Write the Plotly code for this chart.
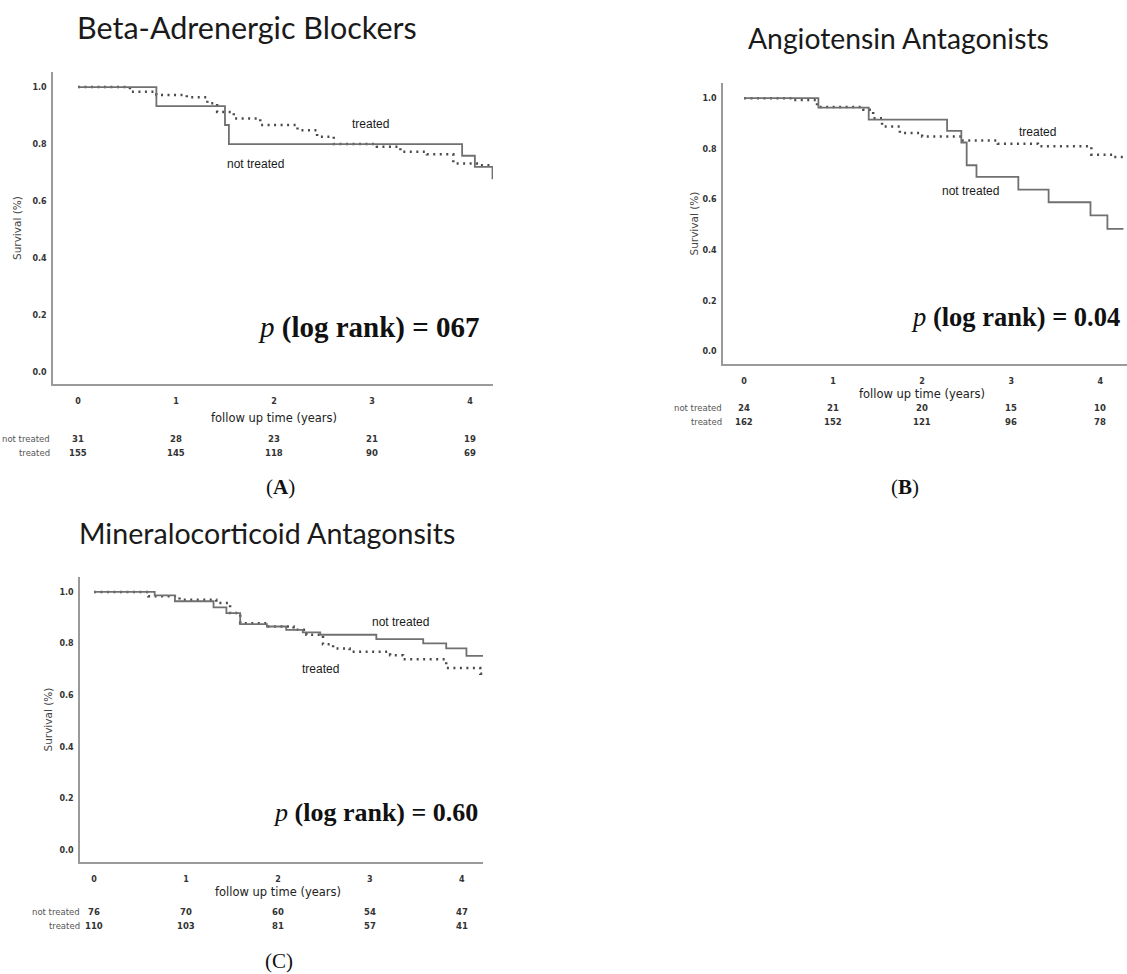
import plotly.graph_objects as go

W, H = 1127, 974

# ---------------- data ----------------
years = [0, 1, 2, 3, 4]

# Panel A: Beta-Adrenergic Blockers
a_nt_t = [0, 0.80, 1.50, 1.54, 3.92, 4.05, 4.23]
a_nt_s = [1.0, 0.933, 0.867, 0.80, 0.759, 0.72, 0.677]
a_tr_t = [0, 0.53, 0.80, 1.11, 1.32, 1.42, 1.59, 1.86, 2.24, 2.44, 2.61, 3.05, 3.29, 3.56, 3.83, 4.07, 4.23]
a_tr_s = [1.0, 0.984, 0.972, 0.964, 0.943, 0.913, 0.89, 0.867, 0.849, 0.826, 0.80, 0.791, 0.773, 0.764, 0.732, 0.726, 0.726]
a_risk_nt = [31, 28, 23, 21, 19]
a_risk_tr = [155, 145, 118, 90, 69]

# Panel B: Angiotensin Antagonists
b_nt_t = [0, 0.835, 1.40, 2.28, 2.44, 2.50, 2.61, 3.08, 3.42, 3.89, 4.08, 4.26]
b_nt_s = [1.0, 0.963, 0.915, 0.871, 0.825, 0.735, 0.689, 0.639, 0.589, 0.537, 0.484, 0.484]
b_tr_t = [0, 0.55, 0.82, 1.34, 1.45, 1.55, 1.75, 2.0, 2.45, 2.85, 3.3, 3.9, 4.15, 4.26]
b_tr_s = [1.0, 0.993, 0.965, 0.954, 0.921, 0.888, 0.862, 0.849, 0.833, 0.82, 0.81, 0.777, 0.768, 0.768]
b_risk_nt = [24, 21, 20, 15, 10]
b_risk_tr = [162, 152, 121, 96, 78]

# Panel C: Mineralocorticoid Antagonists
c_nt_t = [0, 0.66, 0.88, 1.30, 1.44, 1.59, 1.88, 2.09, 2.27, 2.46, 3.07, 3.58, 3.83, 4.05, 4.23]
c_nt_s = [1.0, 0.987, 0.964, 0.94, 0.918, 0.875, 0.866, 0.853, 0.843, 0.834, 0.817, 0.801, 0.781, 0.752, 0.752]
c_tr_t = [0, 0.59, 0.93, 1.33, 1.48, 1.59, 1.88, 2.17, 2.31, 2.49, 2.60, 2.78, 3.22, 3.36, 3.83, 4.20, 4.23]
c_tr_s = [1.0, 0.983, 0.97, 0.957, 0.918, 0.879, 0.866, 0.853, 0.834, 0.797, 0.781, 0.768, 0.755, 0.739, 0.705, 0.683, 0.683]
c_risk_nt = [76, 70, 60, 54, 47]
c_risk_tr = [110, 103, 81, 57, 41]

titles = ["Beta-Adrenergic Blockers", "Angiotensin Antagonists", "Mineralocorticoid Antagonsits"]
pvals = ["067", "0.04", "0.60"]
captions = ["(<b>A</b>)", "(<b>B</b>)", "(C)"]

# ---------------- layout geometry (pixels) ----------------
def px(x):
    return x / W

def py(y):
    return 1 - y / H

panels = [
    dict(xd=(53, 493), yd=(72, 384), xr=[-0.255, 4.235], yr=[-0.042, 1.053],
         nt=(a_nt_t, a_nt_s), tr=(a_tr_t, a_tr_s), rn=a_risk_nt, rt=a_risk_tr,
         title_xy=(247, 27), title_size=30.5, p_xy=(482, 327), p_size=29, cap_xy=(280, 487),
         ytitle_x=17, xtitle_y=418, risk_y=(439, 453), lab_x=52,
         lab_tr=(2.98, 0.87), lab_nt=(1.81, 0.73)),
    dict(xd=(723, 1127), yd=(83, 364), xr=[-0.236, 4.30], yr=[-0.05, 1.06],
         nt=(b_nt_t, b_nt_s), tr=(b_tr_t, b_tr_s), rn=b_risk_nt, rt=b_risk_tr,
         title_xy=(898, 38), title_size=28.3, p_xy=(1122, 317), p_size=26.5, cap_xy=(905, 487),
         ytitle_x=693, xtitle_y=394, risk_y=(408, 422), lab_x=724,
         lab_tr=(3.29, 0.866), lab_nt=(2.54, 0.635)),
    dict(xd=(80, 483), yd=(577, 862), xr=[-0.152, 4.23], yr=[-0.047, 1.058],
         nt=(c_nt_t, c_nt_s), tr=(c_tr_t, c_tr_s), rn=c_risk_nt, rt=c_risk_tr,
         title_xy=(267, 533), title_size=28.6, p_xy=(480, 812), p_size=26, cap_xy=(279, 961),
         ytitle_x=47, xtitle_y=892, risk_y=(912, 926), lab_x=82,
         lab_tr=(2.46, 0.70), lab_nt=(3.33, 0.885)),
]

fig = go.Figure()
annotations = []
axis_color = "#9a9a9a"
tick_font = dict(family="DejaVu Sans", size=8, color="#333", weight="bold")

for i, p in enumerate(panels):
    n = "" if i == 0 else str(i + 1)
    xa, ya = "x" + n, "y" + n
    fig.add_trace(go.Scatter(x=p["tr"][0], y=p["tr"][1], mode="lines", line_shape="hv",
                             line=dict(color="#4a4a4a", width=2.5, dash="2px,4.5px"),
                             xaxis=xa, yaxis=ya, showlegend=False, hoverinfo="skip"))
    fig.add_trace(go.Scatter(x=p["nt"][0], y=p["nt"][1], mode="lines", line_shape="hv",
                             line=dict(color="#707070", width=1.8),
                             xaxis=xa, yaxis=ya, showlegend=False, hoverinfo="skip"))
    xkey = "xaxis" + n
    ykey = "yaxis" + n
    fig.layout[xkey] = dict(domain=[px(p["xd"][0]), px(p["xd"][1])], range=p["xr"],
                            anchor=ya, showgrid=False, zeroline=False, showline=True,
                            linecolor=axis_color, linewidth=1.5, ticks="",
                            tickvals=years, tickfont=tick_font, ticklabelstandoff=9)
    fig.layout[ykey] = dict(domain=[py(p["yd"][1]), py(p["yd"][0])], range=p["yr"],
                            anchor=xa, showgrid=False, zeroline=False, showline=True,
                            linecolor=axis_color, linewidth=1.5, ticks="",
                            tickvals=[0, 0.2, 0.4, 0.6, 0.8, 1.0], tickformat=".1f",
                            tickfont=tick_font, ticklabelstandoff=3)
    annotations.append(dict(text=titles[i], x=px(p["title_xy"][0]), y=py(p["title_xy"][1]),
                            xref="paper", yref="paper", showarrow=False, xanchor="center",
                            yanchor="middle",
                            font=dict(family="Lato", size=p["title_size"], color="#1a1a1a")))
    annotations.append(dict(text="<i>p</i> <b>(log rank) = %s</b>" % pvals[i],
                            x=px(p["p_xy"][0]), y=py(p["p_xy"][1]), xref="paper", yref="paper",
                            showarrow=False, xanchor="right", yanchor="middle",
                            font=dict(family="Liberation Serif", size=p["p_size"], color="#111")))
    annotations.append(dict(text=captions[i], x=px(p["cap_xy"][0]),
                            y=py(p["cap_xy"][1]), xref="paper", yref="paper", showarrow=False,
                            xanchor="center", yanchor="middle",
                            font=dict(family="Liberation Serif", size=21, color="#111")))
    annotations.append(dict(text="Survival (%)", x=px(p["ytitle_x"]),
                            y=py((p["yd"][0] + p["yd"][1]) / 2), xref="paper", yref="paper",
                            showarrow=False, textangle=-90, xanchor="center", yanchor="middle",
                            font=dict(family="DejaVu Sans", size=10.5, color="#444")))
    annotations.append(dict(text="follow up time (years)", x=2, xref=xa,
                            y=py(p["xtitle_y"]), yref="paper", showarrow=False,
                            xanchor="center", yanchor="middle",
                            font=dict(family="DejaVu Sans", size=11.5, color="#222")))
    for row, vals, lab in [(0, p["rn"], "not treated"), (1, p["rt"], "treated")]:
        yy = py(p["risk_y"][row])
        annotations.append(dict(text=lab, x=px(p["lab_x"]), y=yy, xref="paper", yref="paper",
                                showarrow=False, xanchor="right", yanchor="middle",
                                font=dict(family="DejaVu Sans", size=8.5, color="#555")))
        for t, v in zip(years, vals):
            annotations.append(dict(text=str(v), x=t, xref=xa, y=yy, yref="paper",
                                    showarrow=False, xanchor="center", yanchor="middle",
                                    font=dict(family="DejaVu Sans", size=8.5, color="#333",
                                              weight="bold")))
    annotations.append(dict(text="treated", x=p["lab_tr"][0], y=p["lab_tr"][1], xref=xa, yref=ya,
                            showarrow=False, xanchor="center", yanchor="middle",
                            font=dict(family="Liberation Sans", size=12, color="#1a1a1a")))
    annotations.append(dict(text="not treated", x=p["lab_nt"][0], y=p["lab_nt"][1], xref=xa,
                            yref=ya, showarrow=False, xanchor="center", yanchor="middle",
                            font=dict(family="Liberation Sans", size=12, color="#1a1a1a")))

fig.update_layout(width=W, height=H, margin=dict(l=0, r=0, t=0, b=0),
                  paper_bgcolor="white", plot_bgcolor="white",
                  annotations=annotations, showlegend=False)

fig.write_html("out.html")
